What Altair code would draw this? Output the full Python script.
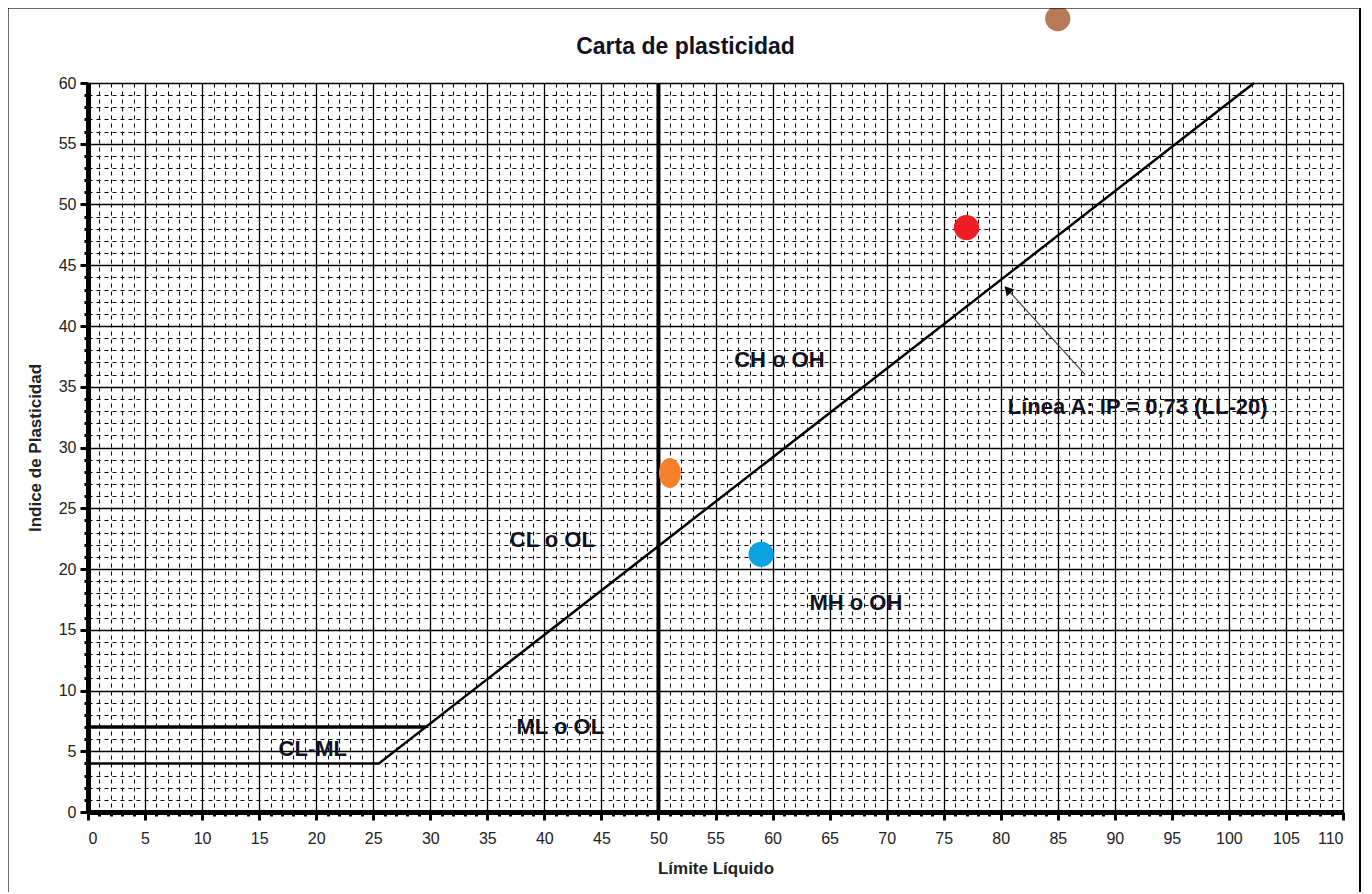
import altair as alt
import pandas as pd

# ---- data ----
pt_ll = [85, 77, 51, 59]
pt_ip = [65.3, 48.1, 27.9, 21.2]
pt_name = ["m1", "m2", "m3", "m4"]
pt_color = ["#B87A56", "#EE1C24", "#F7802A", "#0BA2E2"]

a_ll = [0, 25.5, 102.2]
a_ip = [4, 4, 60]
u_ll = [0, 29.6]
u_ip = [7, 7]
v_ll = [50, 50]
v_ip = [0, 60]

lab_text = ["CH o OH", "CL o OL", "MH o OH", "ML o OL", "CL-ML", "Línea A: IP = 0,73 (LL-20)"]
lab_ll = [60.6, 40.7, 67.3, 41.4, 19.7, 92.0]
lab_ip = [37.2, 22.4, 17.2, 7.0, 5.2, 33.3]

arr_ll = [87.4, 80.6]
arr_ip = [36.0, 43.0]

x_ticks = list(range(0, 111))
y_ticks = list(range(0, 61))

FONT = "Liberation Sans"

xs = alt.Scale(domain=[0, 110], nice=False, zero=False)
ys = alt.Scale(domain=[0, 60], nice=False, zero=False)

major = "datum.value % 5 === 0"


def make_axis(vals, title, pad, lpad):
    return alt.Axis(
        values=vals,
        labelExpr="datum.value % 5 === 0 ? datum.label : ''",
        labelOverlap=False,
        grid=True, gridColor="black", gridOpacity=1,
        gridDash={"condition": {"test": major, "value": []}, "value": [4, 4]},
        gridWidth={"condition": {"test": major, "value": 1.3}, "value": 1},
        tickSize={"condition": {"test": major, "value": 8}, "value": 4},
        tickWidth=3, tickColor="black",
        domainColor="black", domainWidth=5,
        labelFont=FONT, labelFontSize=16, labelColor="#222", labelPadding=lpad,
        title=title, titleFont=FONT, titleFontSize=17, titleFontWeight="bold",
        titleColor="#222", titlePadding=pad,
    )


a_df = pd.DataFrame({"ll": a_ll, "ip": a_ip})
u_df = pd.DataFrame({"ll": u_ll, "ip": u_ip})
v_df = pd.DataFrame({"ll": v_ll, "ip": v_ip})
pts = pd.DataFrame({"ll": pt_ll, "ip": pt_ip, "name": pt_name})
labs = pd.DataFrame({"t": lab_text, "ll": lab_ll, "ip": lab_ip})
arr = pd.DataFrame({"ll": arr_ll, "ip": arr_ip})

base_line = alt.Chart(a_df).mark_line(color="black", strokeWidth=2.5)
line7 = alt.Chart(u_df).mark_line(color="black", strokeWidth=3.5)
vline = alt.Chart(v_df).mark_line(color="black", strokeWidth=4)

arrow_line = alt.Chart(arr).mark_line(color="#444", strokeWidth=1.2)
arrow_head = alt.Chart(arr.iloc[[1]]).mark_point(
    shape="triangle-up", filled=True, color="black", size=110, angle=318, opacity=1
)

color_scale = alt.Scale(domain=pt_name, range=pt_color)
round_pts = alt.Chart(pts[pts.name != "m3"]).mark_point(
    shape="circle", filled=True, size=640, opacity=1
).encode(color=alt.Color("name:N", scale=color_scale, legend=None))
oval_pt = alt.Chart(pts[pts.name == "m3"]).mark_point(
    shape="M-0.73,0a0.73,1 0 1,0 1.46,0a0.73,1 0 1,0 -1.46,0Z", filled=True, size=900, opacity=1
).encode(color=alt.Color("name:N", scale=color_scale, legend=None))

texts = alt.Chart(labs).mark_text(
    font=FONT, fontSize=22, fontWeight="bold", color="#111122"
).encode(text="t:N")

border = alt.Chart(a_df).mark_rect(fill=None, stroke="black", strokeWidth=1.5).encode(
    x=alt.value(-80.5), x2=alt.value(1272), y=alt.value(-75.5), y2=alt.value(840)
)

chart = alt.layer(
    base_line, line7, vline, arrow_line, arrow_head, round_pts, oval_pt, texts, border
).encode(
    x=alt.X("ll:Q", scale=xs, axis=make_axis(x_ticks, "Límite Líquido", 14, 10)),
    y=alt.Y("ip:Q", scale=ys, axis=make_axis(y_ticks, "Indice de Plasticidad", 14, 4)),
).properties(
    width=1255, height=729,
    title=alt.TitleParams("Carta de plasticidad", font=FONT, fontSize=23, fontWeight="bold",
                          color="#111122", offset=-53, dx=-30),
    autosize=alt.AutoSizeParams(type="none"),
    padding={"left": 80, "top": 75, "right": 20, "bottom": 80},
).configure_view(stroke=None)

chart.save("out.html", embed_options={"renderer": "svg", "actions": False})
